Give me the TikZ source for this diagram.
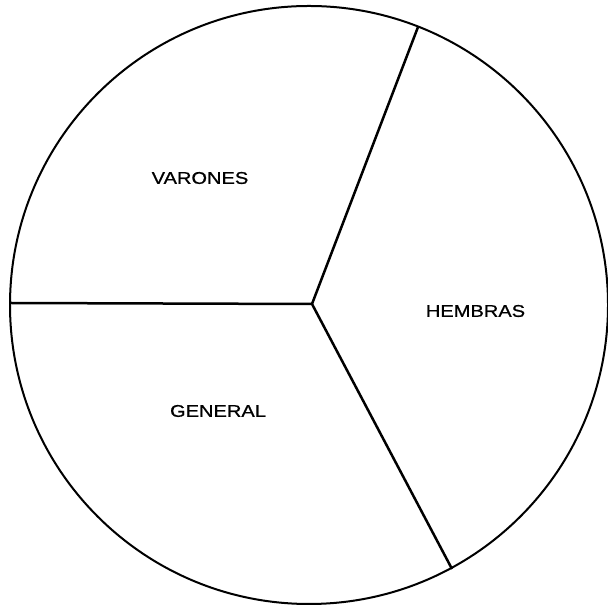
\documentclass[tikz,border=0pt]{standalone}
\usepackage{fontspec}
\setmainfont{Liberation Sans}[FakeStretch=1.18,FakeBold=0.8]
\begin{document}
\begin{tikzpicture}[x=1pt,y=1pt,
  lbl/.style={font=\fontsize{17}{20}\selectfont, inner sep=0pt},
  spoke/.style={line width=2.5pt},
  rim/.style={line width=2pt}]
\useasboundingbox (0,0) rectangle (607,609);
\coordinate (o) at (309,304);
\coordinate (c) at (312,305);
\coordinate (t) at (418,582);
\coordinate (l) at (10,306);
\coordinate (b) at (452,40);
\draw[rim] (o) circle[radius=299];
\draw[spoke] (c) -- (t);
\draw[spoke] (c) -- (l);
\draw[spoke] (c) -- (b);
\node[lbl] (v) at (200,431) {VARONES};
\node[lbl] (h) at (475.5,298) {HEMBRAS};
\node[lbl] (g) at (218,198) {GENERAL};
\end{tikzpicture}
\end{document}
